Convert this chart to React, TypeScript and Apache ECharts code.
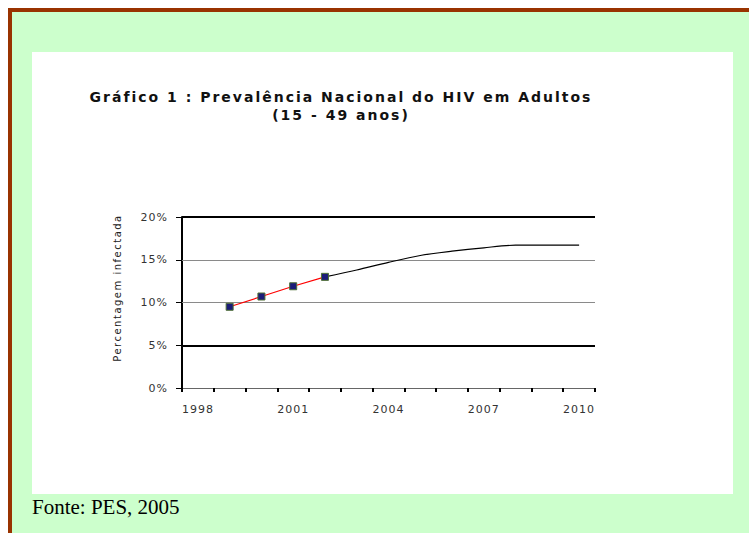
import React, { useEffect, useRef } from "react";
import * as echarts from "echarts";

const years = ["1998", "1999", "2000", "2001", "2002", "2003", "2004", "2005", "2006", "2007", "2008", "2009", "2010"];
const observed = [null, 9.5, 10.7, 11.9, 13.0, null, null, null, null, null, null, null, null];
const projection = [null, null, null, null, 13.0, 13.8, 14.7, 15.5, 16.0, 16.4, 16.7, 16.7, 16.7];
const gridValues = [20, 15, 10, 5];
const titleText = "Gráfico 1 : Prevalência Nacional do HIV em Adultos\n(15 - 49 anos)";
const yAxisName = "Percentagem infectada";
const sourceText = "Fonte: PES, 2005";

const css = `
#chartbox text[style*="14px"] { letter-spacing: 2px; }
#chartbox text[style*="11px"] { letter-spacing: 1px; }
#chartbox text[style*="10px"] { letter-spacing: 1.5px; }
`;

export default function App() {
  const ref = useRef<HTMLDivElement>(null);
  useEffect(() => {
    if (!ref.current) return;
    const chart = echarts.init(ref.current, null, { renderer: "svg" });
    const gridStyles = [
      { color: "#000", width: 2, type: "solid" },
      { color: "#8a8a8a", width: 1, type: "solid" },
      { color: "#8a8a8a", width: 1, type: "solid" },
      { color: "#000", width: 2, type: "solid" },
    ];
    chart.setOption({
      animation: false,
      backgroundColor: "#ffffff",
      graphic: [
        { type: "rect", z: -10, shape: { x: 8, y: 8, width: 741, height: 525 }, style: { fill: "#993300" } },
        { type: "rect", z: -9, shape: { x: 12, y: 12, width: 737, height: 521 }, style: { fill: "#CCFFCC" } },
        { type: "rect", z: -8, shape: { x: 32, y: 52, width: 701, height: 442 }, style: { fill: "#ffffff" } },
        {
          type: "text",
          x: 341,
          y: 88,
          style: {
            text: titleText,
            fill: "#111",
            font: "bold 14px 'DejaVu Sans'",
            align: "center",
            verticalAlign: "top",
            lineHeight: 18,
          },
        },
        {
          type: "text",
          x: 117,
          y: 288,
          rotation: Math.PI / 2,
          style: {
            text: yAxisName,
            fill: "#222",
            font: "10px 'DejaVu Sans'",
            align: "center",
            verticalAlign: "middle",
          },
        },
        {
          type: "text",
          x: 32,
          y: 496,
          style: {
            text: sourceText,
            fill: "#000",
            font: "21px 'Liberation Serif'",
            align: "left",
            verticalAlign: "top",
          },
        },
      ],
      grid: { left: 182, top: 217, width: 413, height: 171, containLabel: false },
      xAxis: {
        type: "category",
        data: years,
        boundaryGap: true,
        axisLine: { show: true, lineStyle: { color: "#666", width: 1 } },
        axisTick: { show: true, interval: 0, length: 4, lineStyle: { color: "#000", width: 2 } },
        axisLabel: {
          interval: 2,
          margin: 16,
          color: "#333",
          fontFamily: "DejaVu Sans",
          fontSize: 11,
        },
        splitLine: { show: false },
      },
      yAxis: {
        type: "value",
        min: 0,
        max: 20,
        interval: 5,
        axisLine: { show: true, lineStyle: { color: "#000", width: 2 } },
        axisTick: { show: true, length: 6, lineStyle: { color: "#000", width: 1 } },
        axisLabel: {
          formatter: "{value}%",
          margin: 14,
          color: "#333",
          fontFamily: "DejaVu Sans",
          fontSize: 11,
        },
        splitLine: { show: false },
      },
      series: [
        {
          type: "line",
          name: "Projecção",
          data: projection,
          z: 2,
          showSymbol: false,
          symbol: "none",
          smooth: 0.3,
          connectNulls: false,
          lineStyle: { color: "#000", width: 1.2 },
          markLine: {
            silent: true,
            symbol: ["none", "none"],
            label: { show: false },
            z: 1,
            data: gridValues.map((v, i) => ({ yAxis: v, lineStyle: gridStyles[i] })),
          },
        },
        {
          type: "line",
          name: "Observado",
          data: observed,
          z: 3,
          symbol: "rect",
          symbolSize: 7,
          lineStyle: { color: "#ff0000", width: 1.2 },
          itemStyle: { color: "#1c1c78", borderColor: "#4f6f35", borderWidth: 1 },
        },
      ],
    });
    return () => chart.dispose();
  }, []);
  return (
    <>
      <style>{css}</style>
      <div
        id="chartbox"
        ref={ref}
        style={{ position: "absolute", left: 0, top: 0, width: 749, height: 533 }}
      />
    </>
  );
}
